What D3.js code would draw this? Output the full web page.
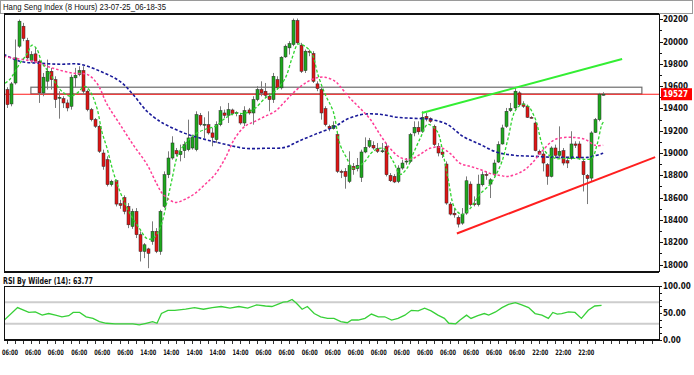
<!DOCTYPE html>
<html><head><meta charset="utf-8">
<script src="https://cdn.jsdelivr.net/npm/d3@7"></script>
<style>body{margin:0;background:#fff}svg{display:block}</style>
</head><body>
<script>
const opens=[19569,19440,19628,19958,20137,20009,19829,19889,19823,19539,
19644,19733,19658,19495,19488,19449,19419,19674,19703,19740,
19554,19389,19299,19240,19000,18940,18716,18752,18545,18600,
18521,18341,18476,18267,18117,18140,18207,18297,18117,18521,
18805,18955,19022,18985,19021,19030,19045,19030,19338,19250,
19254,19180,19120,19254,19359,19338,19386,19359,19338,19269,
19386,19359,19479,19569,19554,19509,19479,19658,19584,19862,
19943,19973,20188,19967,19739,19913,19892,19620,19569,19398,
19239,19218,19165,18835,18835,18745,18880,18860,18781,19009,
19060,19069,19039,19015,19060,18799,18790,18745,18865,18925,
18925,19180,19230,19195,19329,19308,19239,19060,19009,18901,
18542,18460,18422,18371,18461,18721,18545,18536,18715,18808,
18721,18805,18919,19081,19239,19380,19404,19539,19440,19419,
19320,19269,19015,18991,18895,18790,19045,18979,19021,18931,
18949,19081,19081,18925,18799,18775,19185,19299,19524];
const highs=[19590,19637,20018,20197,20167,20033,19913,19943,19838,19718,
19838,19763,19688,19554,19509,19479,19703,19763,19778,19778,
19569,19404,19314,19254,19030,18970,18760,18761,18580,18620,
18551,18500,18506,18297,18192,18150,18387,18326,18491,18835,
19015,19150,19045,19075,19105,19299,19165,19374,19359,19320,
19374,19225,19284,19419,19389,19449,19398,19374,19359,19419,
19404,19509,19599,19643,19628,19539,19718,19688,19868,19973,
20003,20206,20206,19988,19928,19928,19913,19643,19584,19419,
19254,19284,19180,18850,18865,19015,18910,18955,19030,19140,
19135,19105,19090,19090,19090,18820,18810,18890,18940,18955,
19180,19284,19284,19374,19359,19320,19254,19090,19030,18925,
18560,18505,18440,18506,18790,18745,18611,18805,18835,18835,
18775,18940,19105,19254,19404,19449,19584,19554,19464,19434,
19330,19284,19030,19015,18910,19060,19075,19239,19045,18955,
19195,19105,19105,18940,18811,19195,19314,19539,19545];
const lows=[19404,19419,19614,19943,20003,19838,19808,19808,19449,19509,
19569,19569,19404,19308,19404,19374,19389,19584,19688,19524,
19374,19284,19225,19000,18850,18700,18700,18521,18500,18450,
18326,18320,18237,18027,18057,17967,18177,18102,18087,18506,
18775,18940,18970,18925,18955,19015,19030,19015,19240,19135,
19165,19060,19090,19240,19314,19269,19338,19329,19254,19240,
19344,19254,19464,19509,19494,19374,19449,19569,19569,19853,
19883,19958,19973,19718,19718,19868,19628,19554,19299,19239,
19195,19210,18820,18775,18680,18730,18805,18835,18740,18998,
19045,19030,19000,19000,18790,18740,18730,18730,18850,18895,
18910,19150,19165,19180,19284,19270,19060,18970,18955,18536,
18440,18420,18332,18356,18446,18521,18521,18521,18700,18760,
18596,18790,18910,19075,19225,19368,19389,19419,19404,19314,
19310,19015,18985,18835,18715,18781,18955,18955,18889,18865,
18940,19045,18940,18655,18542,18745,19180,19284,19515];
const closes=[19434,19620,19853,20182,20027,19853,19883,19823,19539,19680,
19733,19658,19479,19500,19449,19404,19680,19697,19740,19554,
19389,19299,19240,19015,18880,18716,18746,18542,18530,18476,
18356,18476,18267,18117,18177,18100,18297,18117,18476,18805,
18955,19090,18992,19015,19075,19135,19140,19344,19254,19258,
19180,19140,19254,19380,19338,19389,19353,19362,19269,19380,
19359,19479,19569,19539,19518,19479,19688,19584,19859,19958,
19981,20191,19988,19733,19913,19910,19643,19578,19359,19254,
19218,19248,18835,18828,18790,18889,18850,18889,19009,19051,
19110,19045,19015,19020,18805,18751,18740,18865,18910,18928,
19165,19230,19190,19320,19308,19284,19075,19000,18985,18551,
18452,18445,18362,18452,18751,18536,18540,18721,18805,18802,
18760,18910,19075,19225,19374,19398,19554,19434,19419,19320,
19318,19021,18990,18910,18790,19045,18979,19015,18910,18910,
19081,19069,18955,18805,18770,19180,19299,19524,19527];

// moving averages: [candle index, value]
const fastMA=[[-0.4,19625],[0.8,19661],[3.3,19805],[5,19886],[6.3,19967],[7.5,19931],[8.8,19805],[10.7,19715],[13.2,19571],[15.7,19509],[17.4,19535],[19.4,19598],[20.7,19553],[22.4,19401],[23.6,19194],[24.9,19042],[26.4,18835],[28.1,18655],[29.9,18503],[31.3,18413],[33.1,18314],[34.8,18233],[36.3,18233],[38,18323],[39.8,18566],[41,18763],[42.5,18988],[44.2,19078],[46.7,19167],[49.2,19212],[51.7,19239],[54.2,19311],[56.6,19356],[59.1,19356],[61.6,19401],[64.1,19491],[66.6,19553],[69.1,19670],[70.8,19850],[72.3,19976],[74,19958],[75.8,19886],[77.2,19706],[79,19527],[81,19374],[82.7,19078],[84.4,18952],[85.9,18862],[88.4,18907],[90.9,19015],[93.4,19042],[95.9,18925],[97.6,18808],[99.3,18862],[100.8,18988],[102.6,19131],[104.5,19257],[106.8,19194],[108.3,18988],[109.5,18772],[111.2,18503],[113,18449],[115,18503],[117.4,18629],[119.9,18718],[121.2,18790],[122.9,18925],[124.4,19131],[126.1,19374],[127.9,19437],[129.4,19419],[131.1,19311],[133.6,19015],[136.1,18952],[138.5,18952],[141,18952],[143.5,18943],[145.2,18952],[146.5,19078],[147.7,19257],[148.2,19284]];
const midMA=[[-0.7,19868],[1.6,19850],[6.5,19823],[11.5,19760],[16.5,19715],[19.9,19706],[22.4,19625],[24.9,19437],[28.1,19257],[31.3,19078],[34.8,18898],[37.3,18718],[38.8,18629],[41.8,18557],[44.2,18584],[46.7,18637],[49.2,18718],[51.7,18808],[54.2,18952],[56.6,19131],[59.1,19239],[61.6,19284],[64.1,19329],[66.6,19374],[69.1,19464],[71.5,19553],[74,19625],[76.5,19670],[79,19679],[81.5,19643],[82.7,19598],[85.2,19491],[87.7,19401],[90.2,19302],[92.6,19167],[95.1,19042],[97.6,18961],[100.1,18943],[102.6,18988],[105,19042],[107.5,19051],[110,18997],[112.5,18907],[115,18880],[117.4,18853],[119.9,18817],[122.4,18799],[124.4,18790],[127.9,18835],[130.3,18907],[132.8,19015],[136.1,19122],[140.3,19140],[143.5,19122],[146,19069],[148,19069]];
const slowMA=[[-0.7,19886],[3.3,19823],[8.3,19805],[13.2,19796],[18.2,19796],[23.2,19733],[28.1,19643],[31.3,19527],[34.8,19374],[38,19284],[39.3,19257],[44.2,19176],[49.2,19122],[54.2,19078],[59.1,19042],[64.1,19042],[69.1,19051],[72.3,19104],[76.5,19167],[81.5,19239],[84.4,19302],[88.4,19347],[92.6,19347],[96.9,19320],[100.8,19311],[105,19302],[109.3,19257],[113.2,19149],[117.4,19078],[121.7,19006],[126.1,18979],[131.1,18970],[136,18961],[141,18961],[144.2,18961],[148,18997]];
const rsiPts=[[-0.6,37],[2.7,60],[5.5,51],[7.1,52],[8.8,46],[10.4,49],[12.1,46],[13.7,43],[15.4,45],[16.5,51],[18.1,51],[19.7,43],[21.4,40],[23,34],[24.7,31],[26.9,30],[29.1,30],[31.3,30],[32.9,28],[34.6,31],[36.2,34],[37.3,31],[38.4,49],[40,55],[41.7,55],[44.4,57],[46.6,60],[48.8,57],[51,60],[53.2,62],[55.4,59],[57.6,62],[59.8,59],[62,65],[64.2,63],[65.8,62],[66.9,65],[68.6,70],[69.7,71],[70.8,75],[71.9,68],[73.3,57],[74.6,62],[76.3,49],[77.9,43],[79.6,40],[81.2,40],[82.9,34],[84.5,32],[85.6,37],[87.2,37],[88.9,40],[90.5,48],[92.2,43],[93.8,43],[95.5,37],[97.1,40],[98.8,46],[100.4,55],[102.1,54],[103.7,59],[105.3,54],[107,46],[108.6,40],[109.7,31],[111.4,30],[112.5,37],[114.1,46],[115.2,40],[116.9,45],[118.5,49],[119.6,46],[121.3,52],[122.9,60],[124.5,66],[126.2,69],[127.8,65],[129.5,60],[131.1,49],[132.8,46],[134.4,40],[135.5,51],[136.6,48],[137.7,49],[139.4,52],[141,51],[142.6,40],[144.3,55],[145.9,63],[147.6,64]];

const xLabels=["06:00","06:00","06:00","06:00","06:00","06:00","14:00","14:00","14:00","14:00","14:00","06:00","06:00","06:00","06:00","06:00","06:00","06:00","06:00","06:00","06:00","06:00","06:00","22:00","22:00","22:00"];
const xLabelIdx=[0.8,6.5,12.2,18,23.7,29.4,35.1,40.8,46.6,52.3,58,63.7,69.4,75.2,80.9,86.6,92.3,98,103.8,109.5,115.2,120.9,126.6,132.4,138.1,143.8];
const priceLabels=[18000,18200,18400,18600,18800,19000,19200,19400,19600,19800,20000,20200];
const rsiLabels=[0,50,100];
const rsiLevels=[30,70];
const lastPrice=19527;
const zone=[19530,19590], zoneIdx=[6,157.6];
const upperTrend=[[103,19358],[152.7,19843]];
const lowerTrend=[[111.7,18278],[160.9,18963]];
const titleText="Hang Seng Index (8 Hours) 23-07-25_06-18-35";
const rsiTitle="RSI By Wilder (14): 63.77";

const W=694,H=375;
const P={l:4,r:659,t:14,b:272};
const R={t:286,b:340};
const svg=d3.select("body").append("svg").attr("width",W).attr("height",H).style("font-family","'DejaVu Sans Condensed','DejaVu Sans',sans-serif");
svg.append("rect").attr("width",W).attr("height",H).attr("fill","#fff");

const x=d3.scaleLinear().domain([-0.67,161.85]).range([P.l,P.r]);
const y=d3.scaleLinear().domain([18000,20200]).range([264.5,19.2]);
const yr=d3.scaleLinear().domain([0,100]).range([R.b,R.t]);

// title bar
svg.append("rect").attr("x",0.5).attr("y",0.5).attr("width",692).attr("height",13).attr("fill","#fff").attr("stroke","#9a9a9a");
svg.append("text").attr("x",3).attr("y",10).attr("font-size",8.5).attr("font-family","'Liberation Sans',Arial,sans-serif").attr("textLength",163).attr("lengthAdjust","spacingAndGlyphs").attr("fill","#111").text(titleText);

const defs=svg.append("defs");
defs.append("clipPath").attr("id","cm").append("rect").attr("x",P.l+1).attr("y",P.t+1).attr("width",P.r-P.l-1).attr("height",P.b-P.t-2);
defs.append("clipPath").attr("id","cr").append("rect").attr("x",P.l+1).attr("y",R.t).attr("width",P.r-P.l-1).attr("height",R.b-R.t);

const g=svg.append("g").attr("clip-path","url(#cm)");

// resistance zone
g.append("rect").attr("x",x(zoneIdx[0])).attr("y",y(zone[1])).attr("width",x(zoneIdx[1])-x(zoneIdx[0])).attr("height",y(zone[0])-y(zone[1])).attr("fill","none").attr("stroke","#6e6e6e").attr("stroke-width",1.2);
g.append("line").attr("x1",P.l).attr("x2",P.r).attr("y1",y(lastPrice)).attr("y2",y(lastPrice)).attr("stroke","#ff1a1a").attr("stroke-width",1.2);

const idx=d3.range(opens.length);
g.selectAll(".wick").data(idx).join("line").attr("x1",i=>Math.round(x(i))+0.5).attr("x2",i=>Math.round(x(i))+0.5)
 .attr("y1",i=>y(highs[i])).attr("y2",i=>y(lows[i])).attr("stroke","#7a7a7a").attr("stroke-width",1);
g.selectAll(".body").data(idx).join("rect")
 .attr("x",i=>Math.round(x(i))-1).attr("width",3)
 .attr("y",i=>y(Math.max(opens[i],closes[i])))
 .attr("height",i=>Math.max(1,Math.abs(y(opens[i])-y(closes[i]))))
 .attr("fill",i=>closes[i]>=opens[i]?"#1ea81e":"#e01414")
 .attr("stroke","#2a2a2a").attr("stroke-width",0.5);

const line=d3.line().x(d=>x(d[0])).y(d=>y(d[1])).curve(d3.curveCatmullRom);
g.append("path").attr("d",line(slowMA)).attr("fill","none").attr("stroke","#1a1a99").attr("stroke-width",1.6).attr("stroke-dasharray","3,2");
g.append("path").attr("d",line(midMA)).attr("fill","none").attr("stroke","#ff3c96").attr("stroke-width",1.5).attr("stroke-dasharray","2.5,2");
g.append("path").attr("d",line(fastMA)).attr("fill","none").attr("stroke","#2fd42f").attr("stroke-width",1.3).attr("stroke-dasharray","3,2");

const tl=d3.line().x(d=>x(d[0])).y(d=>y(d[1]));
g.append("path").attr("d",tl(upperTrend)).attr("stroke","#33ee33").attr("stroke-width",2);
g.append("path").attr("d",tl(lowerTrend)).attr("stroke","#ff1f1f").attr("stroke-width",2);

// main frame
svg.append("line").attr("x1",P.l).attr("x2",P.r).attr("y1",P.t).attr("y2",P.t).attr("stroke","#111").attr("stroke-width",2);
svg.append("line").attr("x1",P.l).attr("x2",P.r).attr("y1",P.b).attr("y2",P.b).attr("stroke","#111").attr("stroke-width",2);
svg.append("line").attr("x1",P.l+0.5).attr("x2",P.l+0.5).attr("y1",P.t).attr("y2",P.b).attr("stroke","#111");
svg.append("line").attr("x1",P.r+0.5).attr("x2",P.r+0.5).attr("y1",P.t).attr("y2",P.b).attr("stroke","#111");

// price axis
const minor=d3.range(17900,20301,100).filter(v=>y(v)>P.t&&y(v)<P.b);
svg.selectAll(".pt").data(minor).join("line").attr("x1",P.r).attr("x2",v=>P.r+(v%200===0?4:3)).attr("y1",v=>Math.round(y(v))+0.5).attr("y2",v=>Math.round(y(v))+0.5).attr("stroke","#111");
svg.selectAll(".pl").data(priceLabels).join("text").attr("x",663).attr("y",v=>y(v)+3).attr("font-size",8).attr("font-weight","bold").attr("fill","#111").text(v=>v);
svg.append("rect").attr("x",661).attr("y",y(lastPrice)-6).attr("width",31).attr("height",12).attr("fill","#ff0000");
svg.append("text").attr("x",663).attr("y",y(lastPrice)+3).attr("font-size",8).attr("font-weight","bold").attr("fill","#fff").text(lastPrice);

// RSI panel
svg.append("text").attr("x",3).attr("y",284).attr("font-size",8).attr("font-weight","bold").attr("textLength",90).attr("lengthAdjust","spacingAndGlyphs").attr("fill","#111").text(rsiTitle);
const gr=svg.append("g").attr("clip-path","url(#cr)");
gr.selectAll(".lv").data(rsiLevels).join("line").attr("x1",P.l).attr("x2",P.r).attr("y1",v=>yr(v)).attr("y2",v=>yr(v)).attr("stroke","#cdcdcd").attr("stroke-width",2);
const rl=d3.line().x(d=>x(d[0])).y(d=>yr(d[1]));
gr.append("path").attr("d",rl(rsiPts)).attr("fill","none").attr("stroke","#38d038").attr("stroke-width",1.3);
svg.append("line").attr("x1",P.l).attr("x2",P.r).attr("y1",R.t+0.5).attr("y2",R.t+0.5).attr("stroke","#111");
svg.append("line").attr("x1",P.l).attr("x2",P.r).attr("y1",R.b).attr("y2",R.b).attr("stroke","#111").attr("stroke-width",2);
svg.append("line").attr("x1",P.l+0.5).attr("x2",P.l+0.5).attr("y1",R.t).attr("y2",R.b).attr("stroke","#111");
svg.append("line").attr("x1",P.r+0.5).attr("x2",P.r+0.5).attr("y1",R.t).attr("y2",R.b).attr("stroke","#111");
svg.selectAll(".rt").data(d3.range(0,101,12.5)).join("line").attr("x1",P.r).attr("x2",P.r+3).attr("y1",v=>Math.round(yr(v))+0.5).attr("y2",v=>Math.round(yr(v))+0.5).attr("stroke","#111");
svg.selectAll(".rlab").data(rsiLabels).join("text").attr("x",663).attr("y",v=>yr(v)+3).attr("font-size",8).attr("font-weight","bold").attr("fill","#111").text(v=>v.toFixed(2));

// time axis
svg.selectAll(".xt").data(d3.range(0,162,2)).join("line").attr("x1",i=>Math.round(x(i))+0.5).attr("x2",i=>Math.round(x(i))+0.5).attr("y1",R.b+1).attr("y2",R.b+4).attr("stroke","#333");
svg.selectAll(".xl").data(xLabels).join("text").attr("x",(d,k)=>x(xLabelIdx[k])).attr("y",355).attr("text-anchor","middle")
 .attr("font-size",7.5).attr("font-weight","bold").attr("textLength",16).attr("lengthAdjust","spacingAndGlyphs").attr("fill","#111").text(d=>d);
</script>
</body></html>
